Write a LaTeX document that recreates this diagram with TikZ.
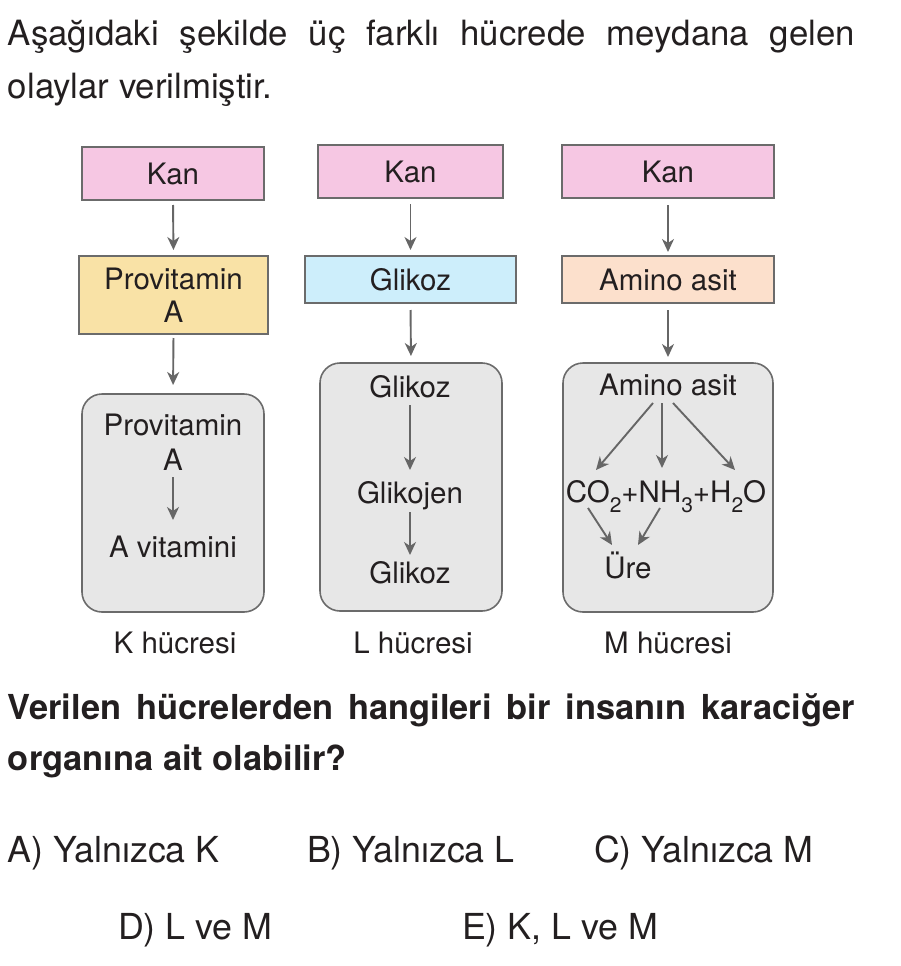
\documentclass[tikz,border=0pt]{standalone}
\usepackage{fontspec}
\setmainfont{TeX Gyre Heros}
\usetikzlibrary{arrows.meta}
\definecolor{kanpink}{HTML}{F6C7E3}
\definecolor{provyellow}{HTML}{F9E2A6}
\definecolor{glkblue}{HTML}{CDEEFB}
\definecolor{aminopeach}{HTML}{FCE0CC}
\definecolor{cellgray}{HTML}{E7E7E7}
\definecolor{boxline}{HTML}{6B6B6B}
\definecolor{arrgray}{HTML}{666666}
\definecolor{inkblack}{HTML}{231F20}
\newcommand{\sbs}[1]{\raisebox{-0.36em}{\fontsize{21}{21}\selectfont #1}}
\begin{document}
\begin{tikzpicture}[x=1pt,y=-1pt,
  every node/.style={inner sep=0pt,outer sep=0pt,text=inkblack},
  dtext/.style={font=\fontsize{29.5}{33}\selectfont,anchor=base},
  btext/.style={font=\fontsize{34.8}{40}\selectfont,anchor=base west},
  otext/.style={font=\fontsize{35.8}{40}\selectfont,anchor=base west},
  qtext/.style={font=\fontsize{34.4}{40}\selectfont\bfseries,anchor=base west},
  colbox/.style={draw=boxline,line width=1.6pt,font=\fontsize{29.5}{33}\selectfont,align=center},
  cellbox/.style={draw=boxline,fill=cellgray,line width=1.6pt,rounded corners=20pt},
  arr/.style={draw=arrgray,line width=1.9pt,-{Stealth[length=13pt,width=12pt,inset=4pt]}}
]
\useasboundingbox (0,0) rectangle (900,966);

% intro text
\node[btext] (intro1) at (8,46) {\makebox[847pt][s]{Aşağıdaki şekilde üç farklı hücrede meydana gelen}};
\node[btext] (intro2) at (8,99) {olaylar verilmiştir.};

% K column
\node[colbox,fill=kanpink,minimum width=182pt,minimum height=53pt] (kanK) at (173,173.5) {Kan};
\node[colbox,fill=provyellow,minimum width=189pt,minimum height=78pt] (provK) at (173.5,295) {Provitamin\\A};
\node[cellbox,minimum width=182pt,minimum height=218pt] (cellK) at (173,503) {};
\node[dtext] (kprov) at (173,435) {Provitamin};
\node[dtext] (kA) at (173,470) {A};
\node[dtext] (kvit) at (173,557) {A vitamini};
\node[dtext] (klabel) at (175,653) {K hücresi};

\draw[arr,shorten <=5pt,shorten >=6pt] (kanK.south) -- (provK.north);
\draw[arr,shorten <=4pt,shorten >=9pt] (provK.south) -- (cellK.north);
\draw[arr] ([yshift=-7pt]kA.base) -- ([yshift=37pt]kvit.base);

% L column
\node[colbox,fill=kanpink,minimum width=185pt,minimum height=53pt] (kanL) at (410.5,171.5) {Kan};
\node[colbox,fill=glkblue,minimum width=211pt,minimum height=47pt] (glkL) at (410.5,279.5) {Glikoz};
\node[cellbox,minimum width=182pt,minimum height=248pt] (cellL) at (411,487) {};
\node[dtext] (lglk1) at (410,397) {Glikoz};
\node[dtext] (lglj) at (410,503) {Glikojen};
\node[dtext] (lglk2) at (410,583) {Glikoz};
\node[dtext] (llabel) at (413,653) {L hücresi};

\draw[arr,shorten <=6pt,shorten >=6pt] (kanL.south) -- (glkL.north);
\draw[arr,shorten <=7pt,shorten >=7pt] (glkL.south) -- (cellL.north);
\draw[arr] ([yshift=-8pt]lglk1.base) -- ([yshift=33pt]lglj.base);
\draw[arr] ([yshift=-9pt]lglj.base) -- ([yshift=28pt]lglk2.base);

% M column
\node[colbox,fill=kanpink,minimum width=212pt,minimum height=53pt] (kanM) at (668,171.5) {Kan};
\node[colbox,fill=aminopeach,minimum width=212pt,minimum height=47pt] (aminoM) at (668,279.5) {Amino asit};
\node[cellbox,minimum width=210pt,minimum height=249pt] (cellM) at (668,487.5) {};
\node[dtext] (mamino) at (668,395) {Amino asit};
\node[dtext] (mprod) at (666,502) {CO\sbs{2}+NH\sbs{3}+H\sbs{2}O};
\node[dtext] (mure) at (628,578) {Üre};
\node[dtext] (mlabel) at (668,653) {M hücresi};

\draw[arr,shorten <=7pt,shorten >=4pt] (kanM.south) -- (aminoM.north);
\draw[arr,shorten <=7pt,shorten >=6pt] (aminoM.south) -- (cellM.north);
\draw[arr] ([xshift=-15pt,yshift=-8pt]mamino.base) -- ([xshift=-70pt,yshift=32pt]mprod.base);
\draw[arr] ([xshift=-6pt,yshift=-8pt]mamino.base) -- ([xshift=-4pt,yshift=34pt]mprod.base);
\draw[arr] ([xshift=5pt,yshift=-8pt]mamino.base) -- ([xshift=69pt,yshift=32pt]mprod.base);
\draw[arr] ([xshift=-78pt,yshift=-6pt]mprod.base) -- ([xshift=-16pt,yshift=33pt]mure.base);
\draw[arr] ([xshift=-6pt,yshift=-6pt]mprod.base) -- ([xshift=10pt,yshift=33pt]mure.base);

% question
\node[qtext] (q1) at (8,719) {\makebox[847pt][s]{Verilen hücrelerden hangileri bir insanın karaciğer}};
\node[qtext] (q2) at (8,770) {organına ait olabilir?};

% options
\node[otext] (optA) at (8,862) {A) Yalnızca K};
\node[otext] (optB) at (307,862) {B) Yalnızca L};
\node[otext] (optC) at (594,862) {C) Yalnızca M};
\node[otext] (optD) at (118,939) {D) L ve M};
\node[otext] (optE) at (462,939) {E) K, L ve M};
\end{tikzpicture}
\end{document}
